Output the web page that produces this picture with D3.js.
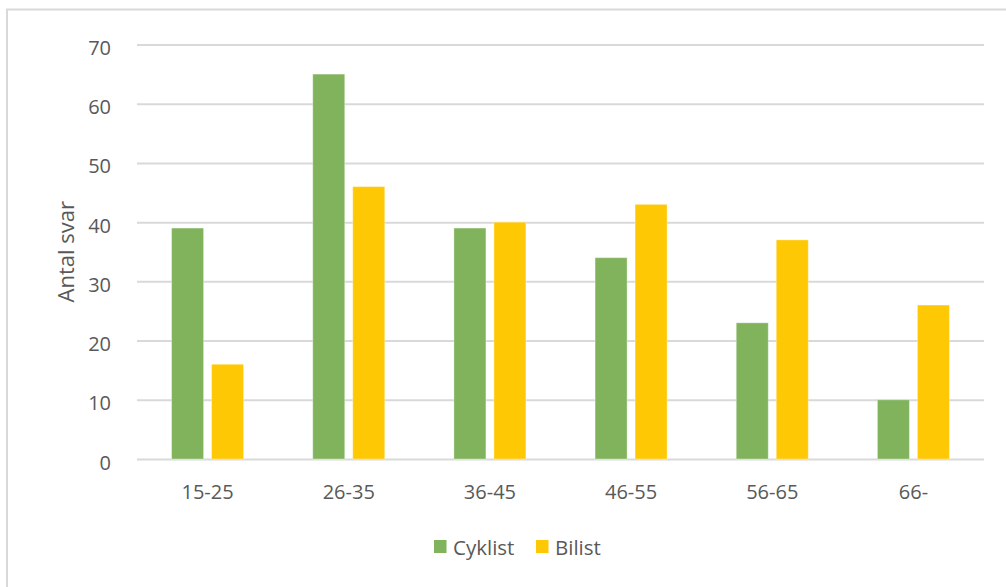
<!DOCTYPE html>
<html>
<head>
<meta charset="utf-8">
<script src="https://cdn.jsdelivr.net/npm/d3@7"></script>
<style>
  html, body { margin: 0; padding: 0; background: #fff; }
  svg { display: block; }
  text { font-family: "Open Sans", "Noto Sans", sans-serif; fill: #595959; }
</style>
</head>
<body>
<script>
// Age groups and number of answers per respondent type
const categories = ["15-25", "26-35", "36-45", "46-55", "56-65", "66-"];
const seriesNames = ["Cyklist", "Bilist"];
const cyklist = [39, 65, 39, 34, 23, 10];
const bilist = [16, 46, 40, 43, 37, 26];
const yTicks = [0, 10, 20, 30, 40, 50, 60, 70];
const colors = ["#80B35C", "#FFC805"];

const W = 1006, H = 587;
const plot = { left: 137, right: 984, top: 44.5, bottom: 459 };
const fontStack = "'Open Sans', 'Noto Sans', sans-serif";

const svg = d3.select("body").append("svg").attr("width", W).attr("height", H);

// chart frame
svg.append("rect").attr("x", 7).attr("y", 9.5).attr("width", W + 10).attr("height", H + 10)
  .attr("fill", "#fff").attr("stroke", "#D9D9D9").attr("stroke-width", 2);

const x0 = d3.scaleBand().domain(categories).range([plot.left, plot.right]).padding(0);
const y = d3.scaleLinear().domain([0, 70]).range([plot.bottom, plot.top]);

// horizontal gridlines and value labels
const yAxis = d3.axisLeft(y).tickValues(yTicks).tickSize(-(plot.right - plot.left));
const gy = svg.append("g").attr("transform", `translate(${plot.left},0)`).call(yAxis);
gy.select(".domain").remove();
gy.selectAll(".tick line").attr("stroke", "#D9D9D9").attr("stroke-width", 2);
gy.selectAll(".tick text")
  .attr("x", -26).attr("dy", "0.5em")
  .attr("font-size", 20).attr("fill", "#595959")
  .style("font-family", fontStack);

// grouped bars
const barW = 32, gap = 8;
const data = categories.map((c, i) => [
  { s: 0, v: cyklist[i], c },
  { s: 1, v: bilist[i], c }
]);
svg.append("g").selectAll("g").data(categories).join("g")
  .each(function (c, i) {
    const cx = x0(c) + x0.bandwidth() / 2;
    d3.select(this).selectAll("rect").data(data[i]).join("rect")
      .attr("x", d => d.s === 0 ? cx - gap / 2 - barW : cx + gap / 2)
      .attr("y", d => y(d.v))
      .attr("width", barW)
      .attr("height", d => y(0) - y(d.v))
      .attr("fill", d => colors[d.s])
      .attr("stroke", "#fff").attr("stroke-opacity", 0.35).attr("stroke-width", 1);
  });

// category labels
const xAxis = d3.axisBottom(x0).tickSize(0);
const gx = svg.append("g").attr("transform", `translate(0,${plot.bottom})`).call(xAxis);
gx.select(".domain").remove();
gx.selectAll(".tick text")
  .attr("y", 40).attr("dy", 0)
  .attr("font-size", 20).attr("fill", "#595959")
  .style("font-family", fontStack);

// y-axis title
svg.append("text")
  .attr("transform", `translate(74,${(plot.top + plot.bottom) / 2}) rotate(-90)`)
  .attr("text-anchor", "middle")
  .attr("font-size", 22)
  .text("Antal svar");

// legend
const legendX = [434, 536];
const lg = svg.append("g").selectAll("g").data(seriesNames).join("g")
  .attr("transform", (d, i) => `translate(${legendX[i]},540)`);
lg.append("rect").attr("width", 12.5).attr("height", 13).attr("fill", (d, i) => colors[i]);
lg.append("text").attr("x", 19).attr("y", 15).attr("font-size", 20.5).text(d => d);
</script>
</body>
</html>
